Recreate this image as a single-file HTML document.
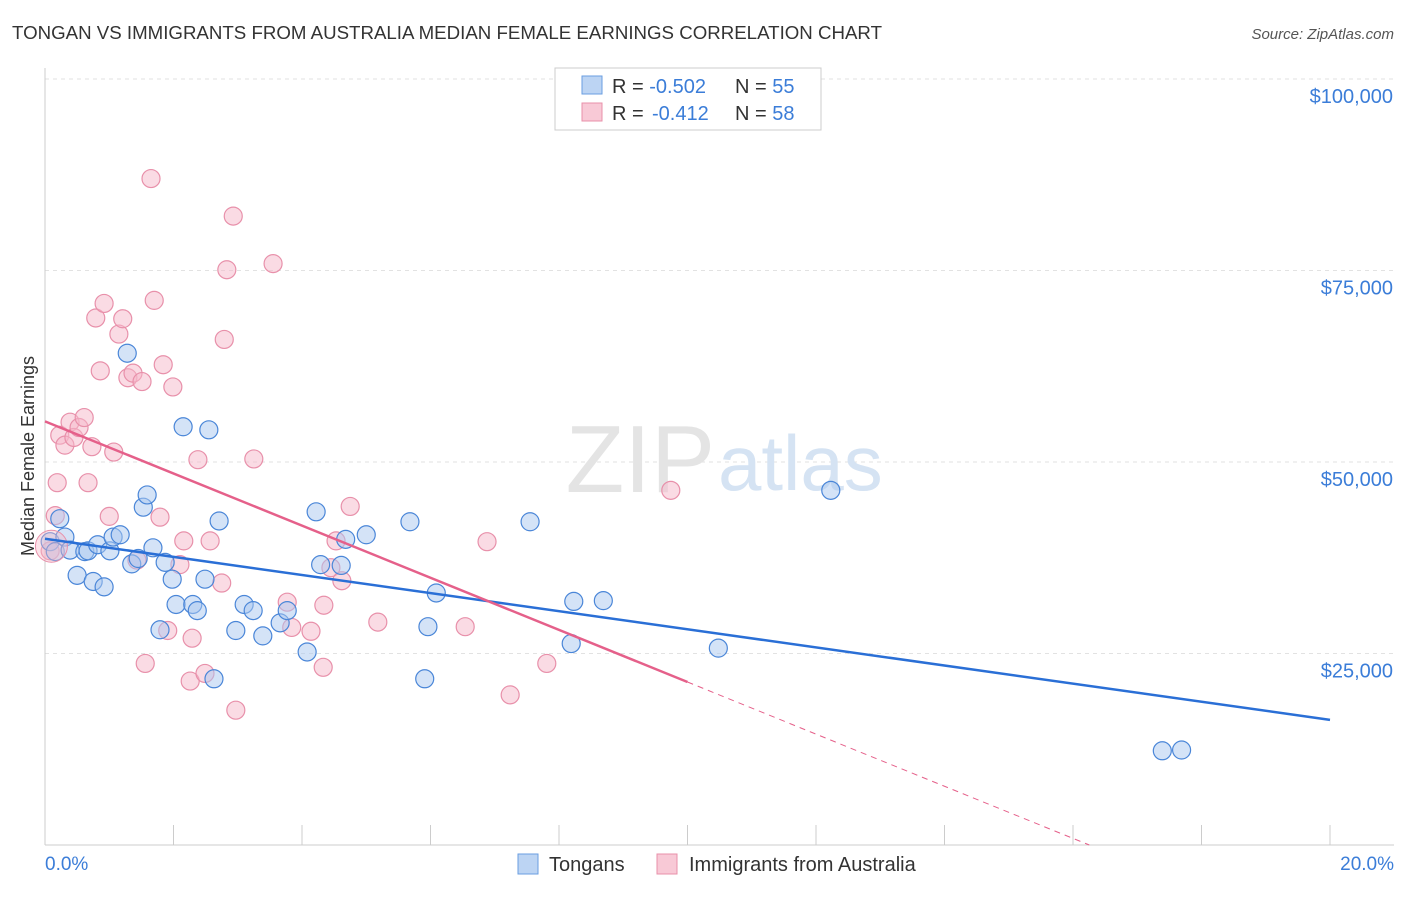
<!DOCTYPE html>
<html><head><meta charset="utf-8"><style>
body{margin:0;background:#fff;font-family:"Liberation Sans",sans-serif;}
svg text{font-family:"Liberation Sans",sans-serif;}
</style></head><body>
<svg id="c" width="1406" height="892" viewBox="0 0 1406 892" xmlns="http://www.w3.org/2000/svg">
<text x="12" y="39" font-size="18" fill="#333" textLength="870" lengthAdjust="spacingAndGlyphs">TONGAN VS IMMIGRANTS FROM AUSTRALIA MEDIAN FEMALE EARNINGS CORRELATION CHART</text>
<text x="1394" y="39" font-size="15" fill="#555" font-style="italic" text-anchor="end">Source: ZipAtlas.com</text>
<g id="grid"></g>
<line x1="45" y1="68" x2="45" y2="845" stroke="#ccc"/>
<line x1="45" y1="845" x2="1394" y2="845" stroke="#ccc"/>
<text x="715" y="492" font-size="96" fill="#e4e4e4" text-anchor="end" font-family="Liberation Serif">ZIP</text>
<text x="718" y="490" font-size="78" fill="#d5e3f3">atlas</text>
<text transform="translate(34,456) rotate(-90)" font-size="18" fill="#333" text-anchor="middle">Median Female Earnings</text>
<text x="45" y="870" font-size="19" fill="#3b7dd8">0.0%</text>
<text x="1394" y="870" font-size="19" fill="#3b7dd8" text-anchor="end">20.0%</text>
<g id="pts"></g>
<g id="lines"></g>
<rect x="555" y="68" width="266" height="62" fill="#fff" stroke="#ccc"/>
<rect x="582" y="76" width="20" height="18" fill="#bcd4f3" stroke="#6a9ee0"/>
<rect x="582" y="103" width="20" height="18" fill="#f8c9d6" stroke="#e890aa"/>
<text x="612" y="93" font-size="20" fill="#333">R = <tspan fill="#3b7dd8">-0.502</tspan><tspan x="735">N = </tspan><tspan fill="#3b7dd8">55</tspan></text>
<text x="612" y="120" font-size="20" fill="#333">R = <tspan fill="#3b7dd8" x="652">-0.412</tspan><tspan x="735">N = </tspan><tspan fill="#3b7dd8">58</tspan></text>
<rect x="518" y="854" width="20" height="20" fill="#bcd4f3" stroke="#6a9ee0"/>
<text x="549" y="871" font-size="20" fill="#333">Tongans</text>
<rect x="657" y="854" width="20" height="20" fill="#f8c9d6" stroke="#e890aa"/>
<text x="689" y="871" font-size="20" fill="#333">Immigrants from Australia</text>
</svg>
<script>
const yTicks=[25000,50000,75000,100000];
const yTickLabels=["$25,000","$50,000","$75,000","$100,000"];
const xTicks=[0,2,4,6,8,10,12,14,16,18,20];
const blueX=[0.08,0.16,0.23,0.31,0.39,0.5,0.62,0.67,0.75,0.82,0.92,1.01,1.06,1.17,1.28,1.35,1.45,1.53,1.59,1.68,1.79,1.87,1.98,2.04,2.15,2.3,2.37,2.49,2.55,2.63,2.71,2.97,3.1,3.24,3.39,3.66,3.77,4.08,4.22,4.29,4.61,4.68,5.0,5.68,5.91,5.96,6.09,7.55,8.19,8.23,8.69,10.48,12.23,17.39,17.69];
const blueY=[39600,38300,42600,40200,38500,35200,38300,38400,34400,39200,33700,38400,40200,40500,64200,36700,37400,44100,45700,38800,28100,36900,34700,31400,54600,31400,30600,34700,54200,21700,42300,28000,31400,30600,27300,29000,30600,25200,43500,36600,36500,39900,40500,42200,21700,28500,32900,42200,26300,31800,31900,25700,46300,12300,12400];
const pinkX=[0.08,0.16,0.19,0.23,0.31,0.39,0.45,0.53,0.61,0.67,0.73,0.79,0.86,0.92,1.0,1.07,1.15,1.21,1.29,1.37,1.43,1.51,1.56,1.65,1.7,1.79,1.84,1.91,1.99,2.1,2.16,2.26,2.29,2.38,2.49,2.57,2.75,2.79,2.83,2.93,2.97,3.25,3.55,3.77,3.84,4.14,4.33,4.34,4.45,4.53,4.62,4.75,5.18,6.54,6.88,7.24,7.81,9.74];
const pinkY=[38400,43000,47300,53500,52200,55200,53200,54500,55800,47300,52000,68800,61900,70700,42900,51300,66700,68700,61000,61600,37200,60500,23700,87000,71100,42800,62700,28000,59800,36600,39700,21400,27000,50300,22400,39700,34200,66000,75100,82100,17600,50400,75900,31700,28400,27900,23200,31300,36200,39700,34500,44200,29100,28500,39600,19600,23700,46300];
const NS="http://www.w3.org/2000/svg";
const X0=45,X1=1330,Y0=845,Ytop=79;
function sx(v){return X0+(X1-X0)*v/20;}
function sy(v){return Y0-(Y0-Ytop)*v/100000;}
function mk(t,a,p){const e=document.createElementNS(NS,t);for(const k in a)e.setAttribute(k,a[k]);p.appendChild(e);return e;}
const grid=document.getElementById('grid');
yTicks.forEach((v,i)=>{
 const l=mk('line',{x1:45,x2:1394,y1:sy(v),y2:sy(v),stroke:'#e2e2e2','stroke-dasharray':'4,4'},grid);
 
 
 const t=mk('text',{x:1393,y:sy(v)+24,'font-size':20,fill:'#3b7dd8','text-anchor':'end'},grid);
 t.textContent=yTickLabels[i];
 
 
});
xTicks.forEach(v=>{
 const l=mk('line',{x1:sx(v),x2:sx(v),y1:825,y2:845,stroke:'#ccc'},grid);
 
 
});
const pts=document.getElementById('pts');
function pointsOf(xs,ys,fill,stroke,name){
 xs.forEach((x,i)=>{
  const c=mk('circle',{cx:sx(x),cy:sy(ys[i]),r:9,fill:fill,'fill-opacity':0.5,stroke:stroke,'stroke-width':1.2},pts);
  
  
 });
}
pointsOf(pinkX,pinkY,'#f5b8c9','#e890aa','point-australia');
pointsOf(blueX,blueY,'#a9c8f0','#4a86d8','point-tongans');
const big=mk('circle',{cx:sx(0.1),cy:sy(39000),r:16,fill:'#f5b8c9','fill-opacity':0.4,stroke:'#e890aa'},pts);


function fit(xs,ys){const n=xs.length;let mx=0,my=0;xs.forEach((x,i)=>{mx+=x;my+=ys[i];});mx/=n;my/=n;let sxy=0,sxx=0;xs.forEach((x,i)=>{sxy+=(x-mx)*(ys[i]-my);sxx+=(x-mx)**2;});const b=sxy/sxx;return [my-b*mx,b];}
const L=document.getElementById('lines');
const [ba,bb]=fit(blueX,blueY);
const bl=mk('line',{x1:sx(0),y1:sy(ba),x2:sx(20),y2:sy(ba+bb*20),stroke:'#2a6fd6','stroke-width':2.5},L);


const [pa,pb]=fit(pinkX,pinkY);
const pl=mk('line',{x1:sx(0),y1:sy(pa),x2:sx(10),y2:sy(pa+pb*10),stroke:'#e5608a','stroke-width':2.5},L);


const xz=-pa/pb;
const pd=mk('line',{x1:sx(10),y1:sy(pa+pb*10),x2:sx(xz),y2:sy(0),stroke:'#e5608a','stroke-width':1,'stroke-dasharray':'6,5'},L);


</script>
</body></html>
